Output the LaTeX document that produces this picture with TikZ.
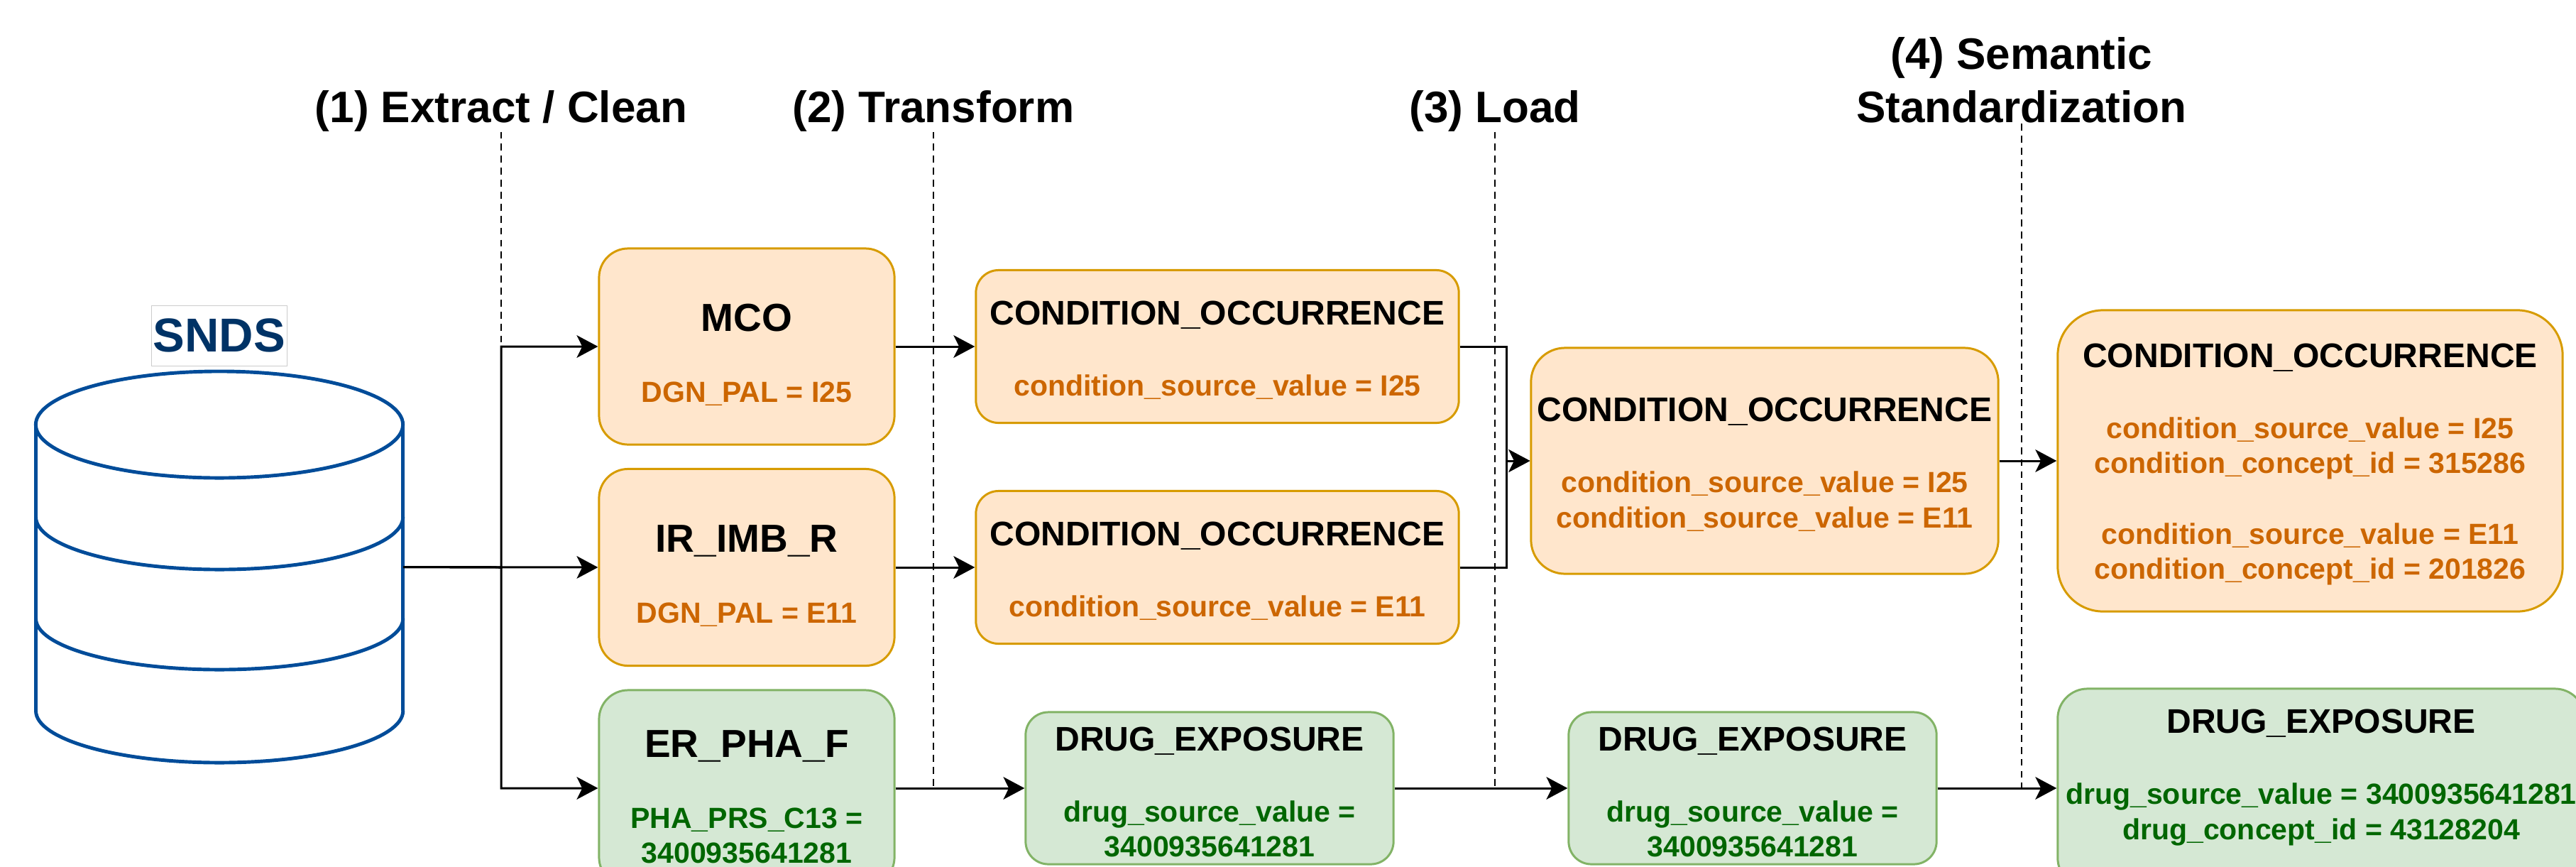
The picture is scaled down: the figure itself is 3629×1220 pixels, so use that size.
\documentclass[tikz,border=0pt]{standalone}
\usepackage{fontspec}
\setmainfont{Liberation Sans}
\usepackage{xcolor}
\usepackage{tikz}
\usetikzlibrary{shapes, arrows.meta, positioning}
\definecolor{orFill}{HTML}{FFE6CC}
\definecolor{orDraw}{HTML}{D79B00}
\definecolor{orText}{HTML}{CC6600}
\definecolor{grFill}{HTML}{D5E8D4}
\definecolor{grDraw}{HTML}{82B366}
\definecolor{grText}{HTML}{006600}
\definecolor{dbBlue}{HTML}{004C99}
\definecolor{sndsBlue}{HTML}{003366}
\newcommand{\valfont}{\fontsize{11.67pt}{13.94pt}\selectfont\bfseries}
\newcommand{\hdfont}{\fontsize{17.64pt}{21.34pt}\selectfont\bfseries}
\newcommand{\srcname}[1]{{\color{black}\fontsize{15.65pt}{18pt}\selectfont\bfseries\rule{0pt}{17.9pt}#1}}
\newcommand{\omopname}[1]{{\color{black}\fontsize{13.66pt}{16pt}\selectfont\bfseries\rule{0pt}{12.5pt}#1}}

\begin{document}
\begin{tikzpicture}
  [
    x=0.01cm, y=-0.01cm,
    >={Stealth[length=8.5pt, width=9pt, inset=2.2pt]},
    Orange/.style={rectangle, draw=orDraw, fill=orFill, line width=0.85pt, text=orText, align=center, font=\valfont, inner sep=0pt},
    Green/.style={rectangle, draw=grDraw, fill=grFill, line width=0.85pt, text=grText, align=center, font=\valfont, inner sep=0pt},
    Header/.style={font=\hdfont, inner sep=0pt, align=center},
    Phase/.style={draw, line width=0.6pt, dash pattern=on 2.8pt off 2pt},
    Link/.style={->, draw, line width=0.85pt},
    DbLine/.style={draw=dbBlue, line width=1.4pt}
  ]
  \useasboundingbox (0, 0) rectangle (3629, 1220);
  \clip (0, 0) rectangle (3629, 1220);
  % Headers
  \node[Header, anchor=base] (h1) at(706, 172) {(1) Extract / Clean};
  \node[Header, anchor=base] (h2) at(1315, 172) {(2) Transform};
  \node[Header, anchor=base] (h3) at(2106, 172) {(3) Load};
  \node[Header, anchor=south] (h4) at(2848, 174) {(4) Semantic\\Standardization};
  \coordinate (e1) at(706, 489);
  \coordinate (e2) at(1315, 1110);
  \coordinate (e3) at(2106, 1110);
  \coordinate (e4) at(2848, 1110);
  \path [Phase] (h1.south) -- (e1);
  \path [Phase] (h2.south) -- (e2);
  \path [Phase] (h3.south) -- (e3);
  \path [Phase] (h4.south) -- (e4);
  % Database
  \node[minimum width=5.17cm, minimum height=5.51cm, inner sep=0pt] (db) at(309, 798.5) {};
  \node[draw=black!20, fill=white, text=sndsBlue, inner xsep=0.7pt, minimum height=0.85cm,
    font=\fontsize{19.06pt}{22pt}\selectfont\bfseries, above=0.06cm of db] (snds) {SNDS};
  \path [DbLine] (309, 598) ellipse [x radius=2.585cm, y radius=0.75cm];
  \path [DbLine] (50.5, 598) -- (50.5, 1001);
  \path [DbLine] (567.5, 598) -- (567.5, 1001);
  \path [DbLine] (50.5, 728) arc[start angle=180, end angle=360, x radius=2.585cm, y radius=0.74cm];
  \path [DbLine] (50.5, 871) arc[start angle=180, end angle=360, x radius=2.585cm, y radius=0.72cm];
  \path [DbLine] (50.5, 1001) arc[start angle=180, end angle=360, x radius=2.585cm, y radius=0.73cm];
  % Nodes
  \node[Orange, rounded corners=0.41cm, minimum width=4.16cm, minimum height=2.76cm] (mco) at(1052, 488)
    {\srcname{MCO}\\[14.5pt]DGN\_PAL = I25};
  \node[Orange, rounded corners=0.41cm, minimum width=4.16cm, minimum height=2.77cm] (ir) at(1052, 799)
    {\srcname{IR\_IMB\_R}\\[14.5pt]DGN\_PAL = E11};
  \node[Green, rounded corners=0.41cm, minimum width=4.16cm, minimum height=2.76cm] (er) at(1052, 1110)
    {\srcname{ER\_PHA\_F}\\[14.5pt]PHA\_PRS\_C13 =\\3400935641281};
  \node[Orange, rounded corners=0.32cm, minimum width=6.8cm, minimum height=2.15cm] (co1) at(1715, 488)
    {\omopname{CONDITION\_OCCURRENCE}\\[14.5pt]condition\_source\_value = I25};
  \node[Orange, rounded corners=0.32cm, minimum width=6.8cm, minimum height=2.15cm] (co2) at(1715, 799)
    {\omopname{CONDITION\_OCCURRENCE}\\[14.5pt]condition\_source\_value = E11};
  \node[Green, rounded corners=0.32cm, minimum width=5.18cm, minimum height=2.14cm] (de1) at(1704, 1110)
    {\omopname{DRUG\_EXPOSURE}\\[14.5pt]drug\_source\_value =\\3400935641281};
  \node[Orange, rounded corners=0.48cm, minimum width=6.58cm, minimum height=3.18cm] (merged) at(2486, 649)
    {\omopname{CONDITION\_OCCURRENCE}\\[14.5pt]condition\_source\_value = I25\\condition\_source\_value = E11};
  \node[Green, rounded corners=0.32cm, minimum width=5.18cm, minimum height=2.14cm] (de2) at(2469, 1110)
    {\omopname{DRUG\_EXPOSURE}\\[14.5pt]drug\_source\_value =\\3400935641281};
  \node[Orange, rounded corners=0.64cm, minimum width=7.11cm, minimum height=4.24cm] (fco) at(3254.5, 649)
    {\omopname{CONDITION\_OCCURRENCE}\\[14.5pt]condition\_source\_value = I25\\condition\_concept\_id = 315286\\[14.5pt]condition\_source\_value = E11\\condition\_concept\_id = 201826};
  \node[Green, rounded corners=0.42cm, minimum width=7.42cm, minimum height=2.8cm] (fde) at(3270, 1110)
    {\omopname{DRUG\_EXPOSURE}\\[14.5pt]drug\_source\_value = 3400935641281\\drug\_concept\_id = 43128204\\\mbox{}};
  % Lines
  \coordinate (fork) at(706, 799);
  \coordinate (join) at(2122, 649);
  \path [Link] (db.east) -- (ir.west);
  \path [Link] (db.east) -- (fork) |- (mco.west);
  \path [Link] (db.east) -- (fork) |- (er.west);
  \path [Link] (mco) -- (co1);
  \path [Link] (ir) -- (co2);
  \path [Link] (er) -- (de1);
  \path [Link] (co1.east) -| (join) -- (merged.west);
  \path [Link] (co2.east) -| (join) -- (merged.west);
  \path [Link] (de1) -- (de2);
  \path [Link] (merged) -- (fco);
  \path [Link] (de2) -- (fde);
\end{tikzpicture}
\end{document}
